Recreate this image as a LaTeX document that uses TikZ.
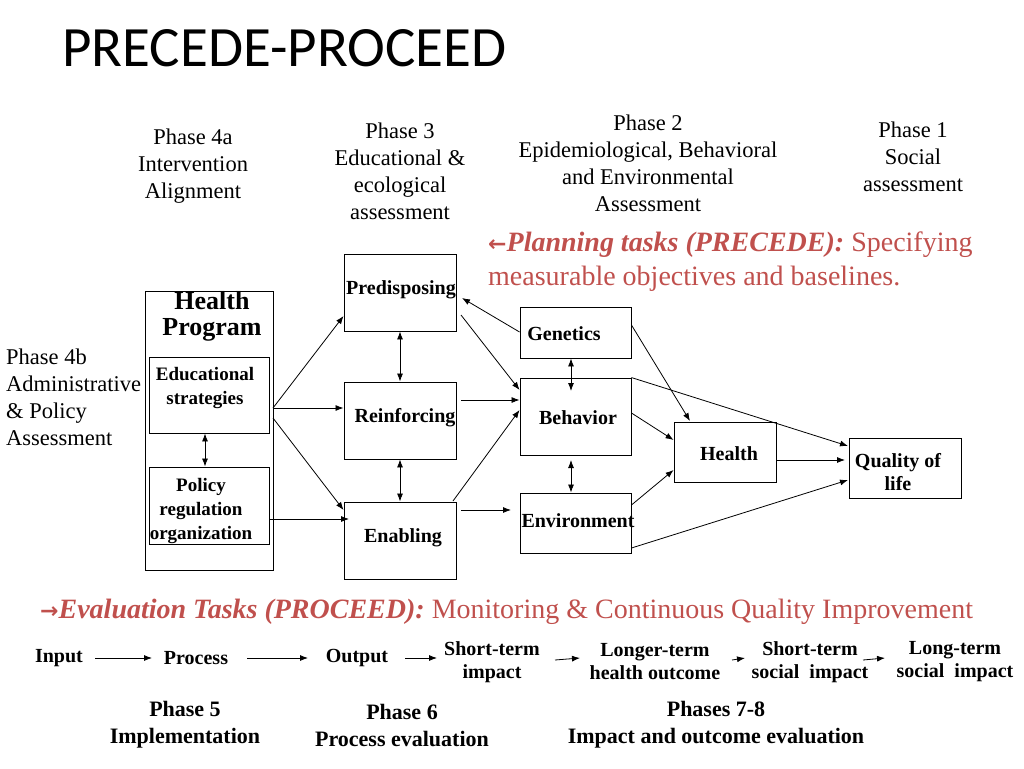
\documentclass[tikz,border=0pt]{standalone}
\usepackage{fontspec}
\usetikzlibrary{arrows.meta}
\setmainfont{Liberation Serif}
\newfontfamily\titlefont{Carlito}
\newfontfamily\symfont{DejaVu Sans}
\definecolor{redt}{HTML}{C0504D}
\begin{document}
\begin{tikzpicture}[x=1pt,y=-1pt,
  bx/.style={draw,line width=0.9pt,inner sep=0},
  lbl/.style={font=\fontsize{20}{22}\selectfont\bfseries,align=center,inner sep=0},
  ph/.style={font=\fontsize{22.5}{27}\selectfont,align=center,inner sep=0},
  bt/.style={font=\fontsize{20}{23}\selectfont\bfseries,align=center,inner sep=0},
  ar/.style={-{Latex[length=8pt,width=6pt]},line width=0.8pt},
  dar/.style={{Latex[length=8pt,width=6pt]}-{Latex[length=8pt,width=6pt]},line width=0.8pt}]
\useasboundingbox (0,0) rectangle (1024,768);
\node[font=\fontsize{57}{60}\selectfont\titlefont,anchor=west,inner sep=0] (title) at (62,48) {PRECEDE-PROCEED};
% phases
\node[ph] (p4a) at (193,166) {Phase 4a\\Intervention\\Alignment};
\node[ph] (p3) at (400,171) {Phase 3\\Educational \&\\ecological\\assessment};
\node[ph] (p2) at (648,163) {Phase 2\\Epidemiological, Behavioral\\and Environmental\\Assessment};
\node[ph] (p1) at (913,157) {Phase 1\\Social\\assessment};
\node[ph,align=left,anchor=west] (p4b) at (6,397) {Phase 4b\\Administrative\\\& Policy\\Assessment};
\node[font=\fontsize{28}{34}\selectfont,text=redt,anchor=west,align=left,inner sep=0] (plan) at (488,262)
 {{\symfont\fontsize{22}{22}\selectfont\bfseries ←}\textbf{\textit{Planning tasks (PRECEDE):}} Specifying\\measurable objectives and baselines.};
% boxes
\node[bx,minimum width=128,minimum height=279] (hp) at (209,430.5) {};
\node[font=\fontsize{26}{26}\selectfont\bfseries,align=center,inner sep=0] (hpt) at (212,316) {Health\\Program};
\node[bx,minimum width=120,minimum height=76] (edu) at (209,395) {};
\node[lbl,font=\fontsize{19}{24}\selectfont\bfseries] (edut) at (205,388) {Educational\\strategies};
\node[bx,minimum width=120,minimum height=77] (pol) at (209,505.5) {};
\node[lbl,font=\fontsize{19}{24}\selectfont\bfseries] (polt) at (201,511) {Policy\\regulation\\organization};
\node[bx,minimum width=112,minimum height=77] (pre) at (400,292.5) {};
\node[lbl] (pret) at (401,290) {Predisposing};
\node[bx,minimum width=112,minimum height=77] (rei) at (400,420.5) {};
\node[lbl] (reit) at (405,418) {Reinforcing};
\node[bx,minimum width=112,minimum height=77] (ena) at (400,540.5) {};
\node[lbl] (enat) at (403,538) {Enabling};
\node[bx,minimum width=111,minimum height=51] (gen) at (575.5,332.5) {};
\node[lbl] (gent) at (564,334) {Genetics};
\node[bx,minimum width=111,minimum height=77] (beh) at (575.5,416.5) {};
\node[lbl] (beht) at (578,418) {Behavior};
\node[bx,minimum width=111,minimum height=60] (env) at (575.5,523) {};
\node[lbl] (envt) at (578,521) {Environment};
\node[bx,minimum width=102,minimum height=60] (hea) at (725,452) {};
\node[lbl] (heat) at (729,454) {Health};
\node[bx,minimum width=112,minimum height=60] (qol) at (905,468) {};
\node[lbl,font=\fontsize{20}{23}\selectfont\bfseries] (qolt) at (898,472) {Quality of\\life};
% connectors
\coordinate (hpR1) at (273,408);
\coordinate (hpR2) at (273,418);
\draw[ar] (hpR1) -- (pre.west |- 0,316);
\draw[ar] (hpR1) -- (rei.west |- 0,408);
\draw[ar] (hpR2) -- (ena.west |- 0,510);
\draw[ar] (pol.east |- 0,519) -- (349,519) coordinate (polend);
\draw[dar] (pre.south) -- (rei.north);
\draw[dar] (rei.south) -- (ena.north);
\draw[dar] (edu.south -| 205,0) -- (pol.north -| 205,0);
\draw[ar] (gen.west |- 0,332) -- (462,298) coordinate (g2);
\draw[ar] (461,315) coordinate (p1s) -- (beh.west |- 0,390);
\draw[ar] (461,400) coordinate (r1s) -- (beh.west |- 0,400);
\draw[ar] (453,501) coordinate (e1s) -- (beh.west |- 0,410);
\draw[ar] (461,510) coordinate (e2s) -- (511,510) coordinate (e2e);
\draw[dar] (gen.south -| 571,0) -- (571,391) coordinate (bt1);
\draw[dar] (571,460) coordinate (bb1) -- (env.north -| 571,0);
\draw[ar] (gen.east |- 0,325) -- (690,421) coordinate (h1);
\draw[ar] (beh.north east) -- (848,446) coordinate (q1);
\draw[ar] (beh.east |- 0,413) -- (hea.west |- 0,440);
\draw[ar] (hea.east |- 0,460) -- (845,460) coordinate (q2);
\draw[ar] (env.east |- 0,505) -- (hea.west |- 0,470);
\draw[ar] (env.east |- 0,548) -- (848,480) coordinate (q3);
% evaluation
\node[font=\fontsize{28}{30}\selectfont,text=redt,anchor=west,inner sep=0] (evalt) at (40,612)
 {{\symfont\fontsize{22}{22}\selectfont\bfseries →}\textbf{\textit{Evaluation Tasks (PROCEED):}} Monitoring \& Continuous Quality Improvement};
\node[bt] (in) at (59,658) {Input};
\node[bt] (pr) at (196,658) {Process};
\node[bt] (ou) at (357,658) {Output};
\node[bt] (st) at (492,662) {Short-term\\impact};
\node[bt] (lt) at (655,662) {Longer-term\\health outcome};
\node[bt] (ss) at (810,662) {Short-term\\social\ \ impact};
\node[bt] (ls) at (955,662) {Long-term\\social\ \ impact};
\draw[ar] (95,658) coordinate (a1) -- (152,658) coordinate (a2);
\draw[ar] (247,658) coordinate (a3) -- (308,658) coordinate (a4);
\draw[ar] (405,658) coordinate (a5) -- (437,658) coordinate (a6);
\draw[ar] (555,660) coordinate (a7) -- (580,658) coordinate (a8);
\draw[ar] (732,660) coordinate (a9) -- (745,658) coordinate (a10);
\draw[ar] (863,660) coordinate (a11) -- (885,658) coordinate (a12);
\node[bt,font=\fontsize{22}{27}\selectfont\bfseries] (ph5) at (185,725) {Phase 5\\Implementation};
\node[bt,font=\fontsize{22}{27}\selectfont\bfseries] (ph6) at (402,725) {Phase 6\\Process evaluation};
\node[bt,font=\fontsize{22}{27}\selectfont\bfseries] (ph78) at (716,725) {Phases 7-8\\Impact and outcome evaluation};
\end{tikzpicture}
\end{document}
